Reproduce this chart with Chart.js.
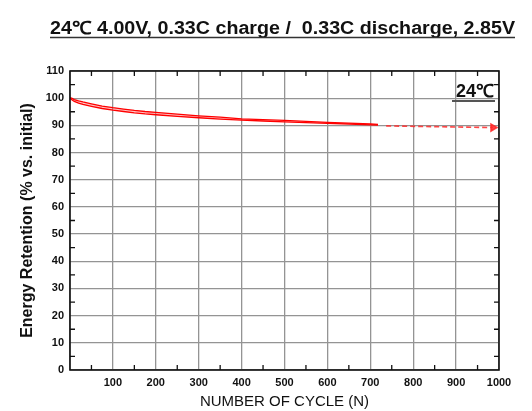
<!DOCTYPE html>
<html>
<head>
<meta charset="utf-8">
<script src="https://cdn.jsdelivr.net/npm/chart.js@4.4.0/dist/chart.umd.min.js"></script>
<style>
  html, body { margin: 0; padding: 0; background: #fff; }
  #wrap { width: 532px; height: 411px; position: relative; }
</style>
</head>
<body>
<div id="wrap"><canvas id="grafico"></canvas></div>
<script>
// cycle data
var cycles = [0, 5, 10, 20, 30, 50, 75, 100, 125, 150, 175, 200, 250, 300, 350, 400, 450, 500, 550, 600, 650, 700, 718];
var retentionUpper = [100.2, 99.9, 99.5, 99.0, 98.6, 97.9, 97.1, 96.5, 96.0, 95.5, 95.1, 94.8, 94.1, 93.5, 93.0, 92.4, 92.1, 91.8, 91.5, 91.1, 90.8, 90.5, 90.4];
var retentionLower = [100.0, 99.3, 98.8, 98.2, 97.7, 97.0, 96.2, 95.6, 95.1, 94.6, 94.2, 93.9, 93.3, 92.8, 92.3, 91.9, 91.6, 91.3, 91.0, 90.7, 90.5, 90.2, 90.1];
var projCycles = [737, 986];
var projValues = [89.8, 89.2];

var xTicks = [0, 1000, 100];   // min, max, step
var yTicks = [0, 110, 10];

var title = '24\u2103 4.00V, 0.33C charge /  0.33C discharge, 2.85V';
var tempLabel = '24\u2103';
var xTitle = 'NUMBER OF CYCLE (N)';
var yTitle = 'Energy Retention (% vs. initial)';

var red = '#ff0000';

function pts(xs, ys) {
  return xs.map(function(x, i) { return { x: x, y: ys[i] }; });
}

var frame = {
  id: 'frame',
  afterDraw: function(chart) {
    var ctx = chart.ctx;
    var a = chart.chartArea;
    var xs = chart.scales.x, ys = chart.scales.y;
    ctx.save();
    // minor ticks, inward
    ctx.strokeStyle = '#111';
    ctx.lineWidth = 1.3;
    ctx.beginPath();
    for (var v = 50; v < 1000; v += 100) {
      var px = xs.getPixelForValue(v);
      ctx.moveTo(px, a.bottom); ctx.lineTo(px, a.bottom - 5);
      ctx.moveTo(px, a.top); ctx.lineTo(px, a.top + 5);
    }
    for (var w = 5; w < 110; w += 10) {
      var py = ys.getPixelForValue(w);
      ctx.moveTo(a.left, py); ctx.lineTo(a.left + 5, py);
      ctx.moveTo(a.right, py); ctx.lineTo(a.right - 5, py);
    }
    ctx.stroke();
    // box
    ctx.lineWidth = 1.6;
    ctx.strokeRect(a.left, a.top, a.right - a.left, a.bottom - a.top);

    // temperature tag
    ctx.fillStyle = '#111';
    ctx.font = 'bold 18px "Liberation Sans", Arial, sans-serif';
    ctx.textAlign = 'right';
    ctx.textBaseline = 'alphabetic';
    ctx.fillText(tempLabel, a.right - 5, 97);
    ctx.strokeStyle = '#555';
    ctx.lineWidth = 2;
    ctx.beginPath();
    ctx.moveTo(a.right - 47, 101); ctx.lineTo(a.right - 4, 101);
    ctx.stroke();

    // title, squeezed to the width of the original
    ctx.font = 'bold 18px "Liberation Sans", Arial, sans-serif';
    ctx.textAlign = 'left';
    var tw = ctx.measureText(title).width;
    var target = 465;
    ctx.save();
    ctx.translate(50, 34);
    ctx.scale(target / tw, 1);
    ctx.fillStyle = '#111';
    ctx.fillText(title, 0, 0);
    ctx.restore();
    ctx.strokeStyle = '#333';
    ctx.lineWidth = 1.6;
    ctx.beginPath();
    ctx.moveTo(50, 37.5); ctx.lineTo(515, 37.5);
    ctx.stroke();
    ctx.restore();
  }
};

const ctx = document.getElementById('grafico').getContext('2d');

new Chart(ctx, {
  type: 'line',
  data: {
    datasets: [
      {
        data: pts(cycles, retentionUpper),
        borderColor: red,
        borderWidth: 1.3,
        pointRadius: 0,
        fill: false,
        tension: 0
      },
      {
        data: pts(cycles, retentionLower),
        borderColor: red,
        borderWidth: 1.3,
        pointRadius: 0,
        fill: '-1',
        backgroundColor: 'rgba(255,80,80,0.35)',
        tension: 0
      },
      {
        data: pts(projCycles, projValues),
        borderColor: 'rgba(255,40,40,0.85)',
        borderWidth: 1.6,
        borderDash: [5, 3],
        pointRadius: [0, 4],
        pointStyle: 'triangle',
        rotation: 90,
        pointBackgroundColor: 'rgba(255,40,40,0.85)',
        pointBorderColor: 'rgba(255,40,40,0.85)',
        fill: false
      }
    ]
  },
  options: {
    responsive: true,
    maintainAspectRatio: false,
    animation: false,
    layout: { padding: { top: 71, right: 33, left: 0, bottom: 0 } },
    scales: {
      x: {
        type: 'linear',
        min: xTicks[0],
        max: xTicks[1],
        afterFit: function(s) { s.height = 41; },
        ticks: {
          stepSize: xTicks[2],
          padding: 6,
          color: '#111',
          maxRotation: 0,
          font: { family: '"Liberation Sans", Arial, sans-serif', size: 11, weight: 'bold' },
          callback: function(v) { return v === 0 ? '' : v; }
        },
        grid: { color: '#949494', lineWidth: 1.3, drawTicks: false },
        border: { display: false },
        title: {
          display: true,
          text: xTitle,
          color: '#111',
          padding: 0,
          font: { family: '"Liberation Sans", Arial, sans-serif', size: 15 }
        }
      },
      y: {
        min: yTicks[0],
        max: yTicks[1],
        afterFit: function(s) { s.width = 70; },
        ticks: {
          stepSize: yTicks[2],
          padding: 6,
          color: '#111',
          font: { family: '"Liberation Sans", Arial, sans-serif', size: 11, weight: 'bold' }
        },
        grid: { color: '#949494', lineWidth: 1.3, drawTicks: false },
        border: { display: false },
        title: {
          display: true,
          text: yTitle,
          color: '#111',
          padding: { top: 18, bottom: 0 },
          font: { family: '"Liberation Sans", Arial, sans-serif', size: 16, weight: 'bold' }
        }
      }
    },
    plugins: {
      legend: { display: false },
      tooltip: { enabled: false }
    }
  },
  plugins: [frame]
});
</script>
</body>
</html>
